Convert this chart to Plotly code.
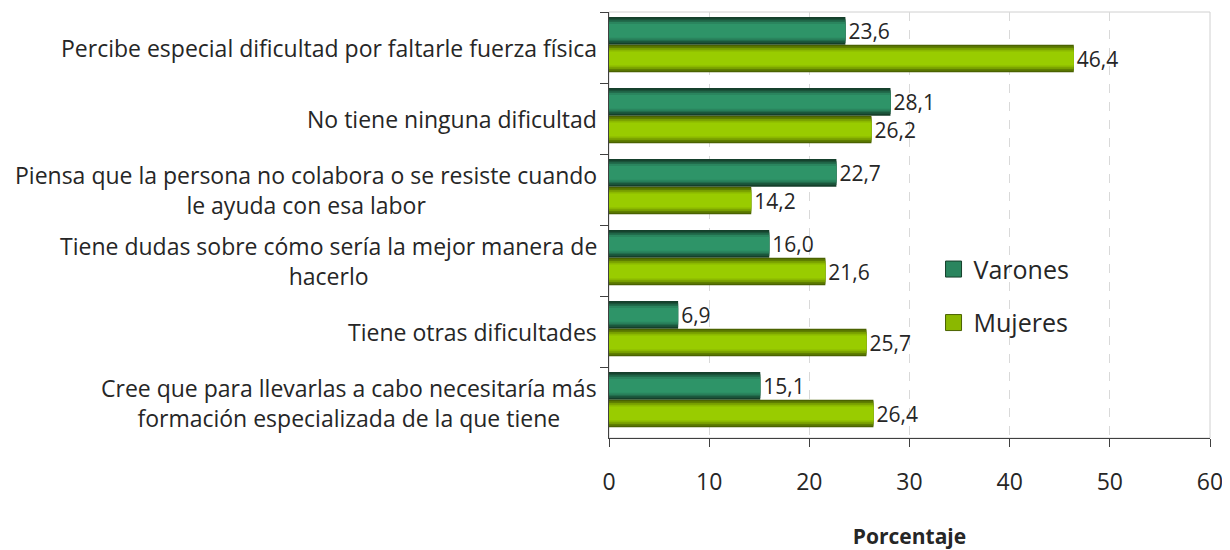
import plotly.graph_objects as go

# categories top to bottom
categorias = [
    "Percibe especial dificultad por faltarle fuerza física",
    "No tiene ninguna dificultad",
    "Piensa que la persona no colabora o se resiste cuando<br>le ayuda con esa labor",
    "Tiene dudas sobre cómo sería la mejor manera de<br>hacerlo",
    "Tiene otras dificultades",
    "Cree que para llevarlas a cabo necesitaría más<br>formación especializada de la que tiene",
]
claves = ["c1", "c2", "c3", "c4", "c5", "c6"]
varones = [23.6, 28.1, 22.7, 16.0, 6.9, 15.1]
mujeres = [46.4, 26.2, 14.2, 21.6, 25.7, 26.4]

FONT = "Open Sans"
TXT = "#262626"

# fake the excel gradient with stacked narrower bars, dark at edges
series = [
    ("Varones", varones, -0.43, ["#153f2b", "#1a5239", "#226c4c", "#2a855e", "#2e9468"]),
    ("Mujeres", mujeres, -0.04, ["#4a6200", "#5f7e00", "#779e00", "#8bb800", "#99cc00"]),
]
fracs = [1.0, 0.88, 0.76, 0.64, 0.5]

fig = go.Figure()
for name, vals, off, cols in series:
    w = 0.39
    for i, (f, c) in enumerate(zip(fracs, cols)):
        first = i == 0
        fig.add_trace(go.Bar(
            y=claves, x=vals, orientation="h", name=name,
            width=w * f, offset=off + w * (1 - f) / 2,
            marker=dict(color=c, line=dict(width=0)),
            text=[f"{v:.1f}".replace(".", ",") for v in vals] if first else None,
            textposition="outside" if first else "none",
            textfont=dict(size=21, color=TXT, family=FONT),
            constraintext="none", cliponaxis=False,
            showlegend=False, legendgroup=name,
            hoverinfo="skip",
        ))
    # legend swatch
    fig.add_trace(go.Scatter(
        x=[None], y=[None], mode="markers", name=name, legendgroup=name,
        marker=dict(symbol="square", size=18, color=cols[3],
                    line=dict(color=cols[0], width=1)),
    ))

for k, lab in zip(claves, categorias):
    fig.add_annotation(
        x=0, xref="paper", y=k, yref="y", xanchor="right", xshift=-10,
        text=lab, showarrow=False, align="center",
        font=dict(size=23, color=TXT, family=FONT),
    )

fig.add_shape(type="rect", xref="paper", yref="paper", x0=0, x1=1, y0=0, y1=1,
              line=dict(color="#d0d0d0", width=1), layer="below")

# page body has an 8px margin, so the figure is sized to fit the window
fig.update_layout(
    width=1222, height=542,
    margin=dict(l=601, r=20, t=4, b=112),
    barmode="overlay",
    paper_bgcolor="white", plot_bgcolor="white",
    font=dict(family=FONT, color=TXT),
    legend=dict(x=0.54, y=0.45, xanchor="left", yanchor="top",
                font=dict(size=25, color=TXT), tracegroupgap=18,
                itemsizing="trace", bgcolor="rgba(0,0,0,0)"),
    xaxis=dict(
        range=[0, 60], dtick=10, showgrid=True, gridcolor="#d9d9d9",
        griddash="dash", zeroline=False, showline=True, linecolor="#404040",
        ticks="outside", ticklen=8, tickcolor="#404040", automargin=False,
        tickfont=dict(size=23, color=TXT), ticklabelstandoff=15,
        title=dict(text="<b>Porcentaje</b>", font=dict(size=21, color=TXT), standoff=36),
    ),
    yaxis=dict(
        categoryorder="array", categoryarray=claves, autorange="reversed",
        showticklabels=False, showgrid=False, showline=True, linecolor="#404040",
        ticks="outside", ticklen=8, tickcolor="#404040", tickson="boundaries",
        automargin=False,
    ),
)

fig.write_html("out.html")
